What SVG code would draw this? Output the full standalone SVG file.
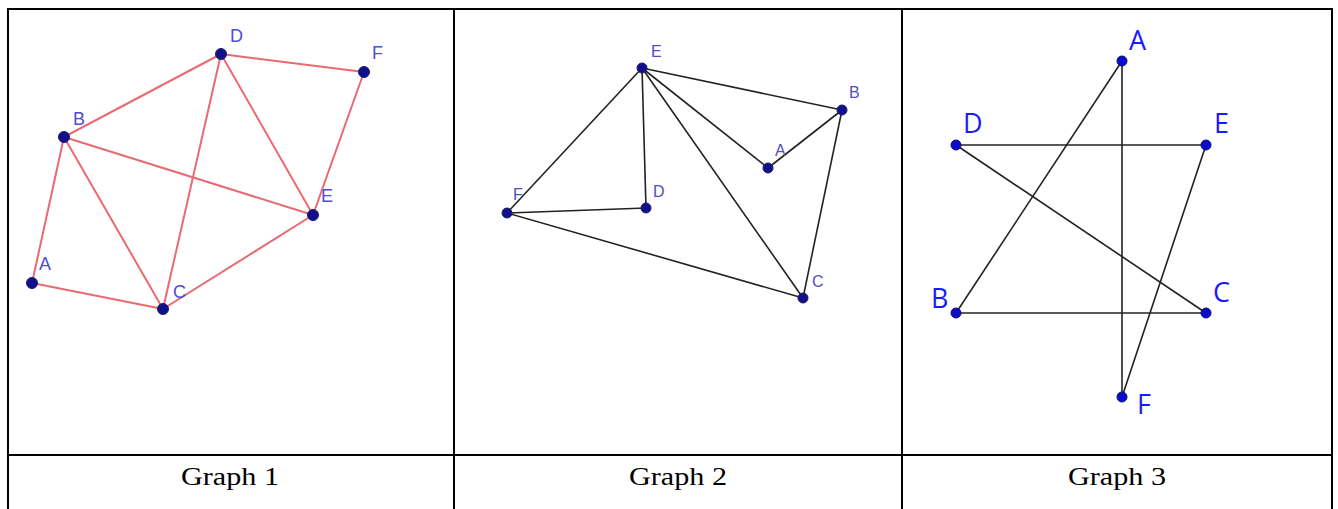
<svg xmlns="http://www.w3.org/2000/svg" width="1338" height="509" viewBox="0 0 1338 509">
<style>
.bd{stroke:#000;stroke-width:2;fill:none}
.e1{stroke:#e86a72;stroke-width:2;fill:none}
.e2{stroke:#222;stroke-width:1.6;fill:none}
.e3{stroke:#222;stroke-width:1.6;fill:none}
.n1{fill:#10108a;stroke:#1c1c70;stroke-width:1}
.n3{fill:#0a0ad0;stroke:#101060;stroke-width:1}
.l1{font-family:"Liberation Sans",Arial,sans-serif;font-size:18px;fill:#4d4dd6}
.l2{font-family:"Liberation Sans",Arial,sans-serif;font-size:16px;fill:#5050b8}
.l3{font-family:"Open Sans","Noto Sans",sans-serif;font-size:27px;fill:#1a1aff}
.cap{font-family:"Liberation Serif","Times New Roman",serif;font-size:26px;fill:#000;text-anchor:middle}
</style>
<rect x="0" y="0" width="1338" height="509" fill="#fff"/>
<g id="table">
<line class="bd" x1="8" y1="9" x2="1332" y2="9"/>
<line class="bd" x1="8" y1="8" x2="8" y2="509"/>
<line class="bd" x1="454" y1="9" x2="454" y2="509"/>
<line class="bd" x1="902" y1="9" x2="902" y2="509"/>
<line class="bd" x1="1332" y1="8" x2="1332" y2="509"/>
<line class="bd" x1="8" y1="455" x2="1332" y2="455"/>
</g>
<g id="captions">
<text class="cap" x="230" y="485" textLength="98" lengthAdjust="spacingAndGlyphs">Graph 1</text>
<text class="cap" x="678" y="485" textLength="98" lengthAdjust="spacingAndGlyphs">Graph 2</text>
<text class="cap" x="1117" y="485" textLength="98" lengthAdjust="spacingAndGlyphs">Graph 3</text>
</g>
<g id="connectors">
<g id="g1-edges">
<line class="e1" x1="32" y1="283" x2="64" y2="137"/>
<line class="e1" x1="32" y1="283" x2="163" y2="309"/>
<line class="e1" x1="64" y1="137" x2="221" y2="54"/>
<line class="e1" x1="64" y1="137" x2="163" y2="309"/>
<line class="e1" x1="64" y1="137" x2="313" y2="215"/>
<line class="e1" x1="221" y1="54" x2="163" y2="309"/>
<line class="e1" x1="221" y1="54" x2="313" y2="215"/>
<line class="e1" x1="221" y1="54" x2="364" y2="72"/>
<line class="e1" x1="364" y1="72" x2="313" y2="215"/>
<line class="e1" x1="313" y1="215" x2="163" y2="309"/>
</g>
<g id="g2-edges">
<line class="e2" x1="642" y1="68" x2="842" y2="110"/>
<line class="e2" x1="642" y1="68" x2="507" y2="213"/>
<line class="e2" x1="642" y1="68" x2="646" y2="208"/>
<line class="e2" x1="642" y1="68" x2="768" y2="168"/>
<line class="e2" x1="642" y1="68" x2="803" y2="298"/>
<line class="e2" x1="768" y1="168" x2="842" y2="110"/>
<line class="e2" x1="842" y1="110" x2="803" y2="298"/>
<line class="e2" x1="507" y1="213" x2="646" y2="208"/>
<line class="e2" x1="507" y1="213" x2="803" y2="298"/>
</g>
<g id="g3-edges">
<line class="e3" x1="1122" y1="61" x2="956" y2="313"/>
<line class="e3" x1="1122" y1="61" x2="1122" y2="397"/>
<line class="e3" x1="956" y1="145" x2="1206" y2="145"/>
<line class="e3" x1="956" y1="145" x2="1206" y2="313"/>
<line class="e3" x1="1206" y1="145" x2="1122" y2="397"/>
<line class="e3" x1="956" y1="313" x2="1206" y2="313"/>
</g>
</g>
<g id="g1-A"><circle class="n1" cx="32" cy="283" r="5.5"/><text class="l1" x="39" y="270">A</text></g>
<g id="g1-B"><circle class="n1" cx="64" cy="137" r="5.5"/><text class="l1" x="73" y="125">B</text></g>
<g id="g1-C"><circle class="n1" cx="163" cy="309" r="5.5"/><text class="l1" x="173" y="298">C</text></g>
<g id="g1-D"><circle class="n1" cx="221" cy="54" r="5.5"/><text class="l1" x="230" y="42">D</text></g>
<g id="g1-E"><circle class="n1" cx="313" cy="215" r="5.5"/><text class="l1" x="321" y="202">E</text></g>
<g id="g1-F"><circle class="n1" cx="364" cy="72" r="5.5"/><text class="l1" x="372" y="59">F</text></g>
<g id="g2-A"><circle class="n1" cx="768" cy="168" r="5"/><text class="l2" x="775" y="156">A</text></g>
<g id="g2-B"><circle class="n1" cx="842" cy="110" r="5"/><text class="l2" x="849" y="98">B</text></g>
<g id="g2-C"><circle class="n1" cx="803" cy="298" r="5"/><text class="l2" x="812" y="287">C</text></g>
<g id="g2-D"><circle class="n1" cx="646" cy="208" r="5"/><text class="l2" x="653" y="197">D</text></g>
<g id="g2-E"><circle class="n1" cx="642" cy="68" r="5"/><text class="l2" x="651" y="57">E</text></g>
<g id="g2-F"><circle class="n1" cx="507" cy="213" r="5"/><text class="l2" x="513" y="200">F</text></g>
<g id="g3-A"><circle class="n3" cx="1122" cy="61" r="5"/><text class="l3" x="1129" y="50">A</text></g>
<g id="g3-B"><circle class="n3" cx="956" cy="313" r="5"/><text class="l3" x="931" y="308">B</text></g>
<g id="g3-C"><circle class="n3" cx="1206" cy="313" r="5"/><text class="l3" x="1213" y="302">C</text></g>
<g id="g3-D"><circle class="n3" cx="956" cy="145" r="5"/><text class="l3" x="963" y="133">D</text></g>
<g id="g3-E"><circle class="n3" cx="1206" cy="145" r="5"/><text class="l3" x="1214" y="133">E</text></g>
<g id="g3-F"><circle class="n3" cx="1122" cy="397" r="5"/><text class="l3" x="1137" y="414">F</text></g>
</svg>
